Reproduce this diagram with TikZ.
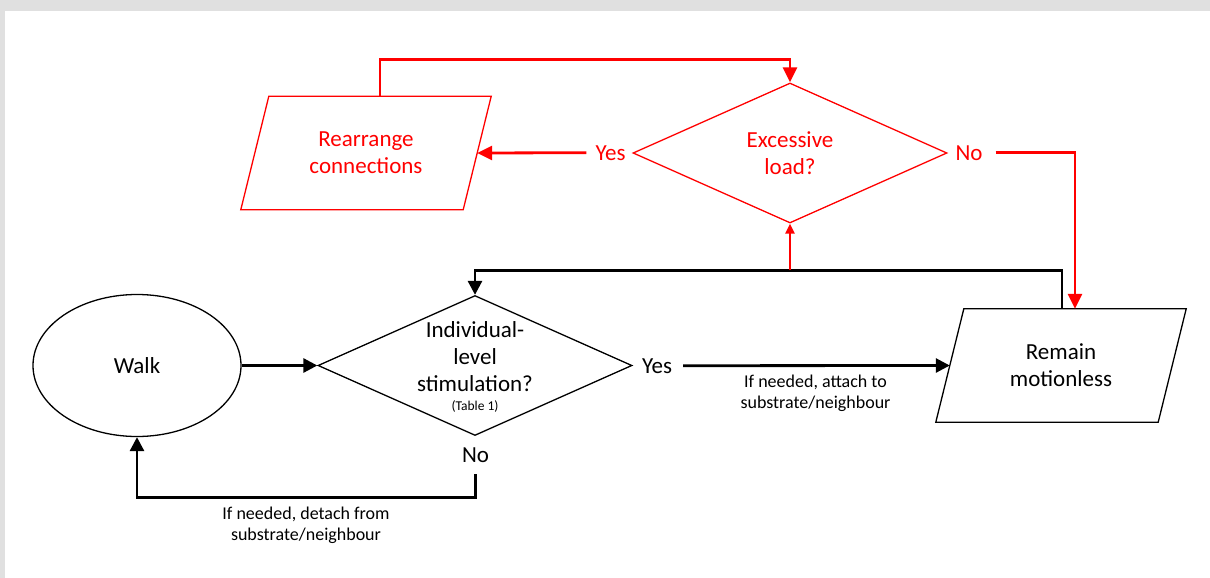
\documentclass[tikz,border=0pt]{standalone}
\usepackage{fontspec}
\setmainfont{Carlito}
\usetikzlibrary{shapes.geometric,arrows.meta,calc}
\definecolor{frame}{HTML}{E0E0E0}
\definecolor{rd}{HTML}{FF0000}
\tikzset{
  shapeline/.style={draw, line width=1.3pt},
  para/.style={minimum width=250pt, minimum height=113pt, inner sep=0pt,
    align=center, font=\fontsize{23}{27}\selectfont},
  dia/.style={shapeline, diamond, minimum width=314pt, minimum height=140pt, inner sep=0pt},
  maintext/.style={align=center, font=\fontsize{23}{27}\selectfont, inner sep=0pt},
  smalltext/.style={align=center, font=\fontsize{18}{21}\selectfont, inner sep=0pt},
  lbl/.style={anchor=base, font=\fontsize{23}{27}\selectfont, inner sep=0pt},
  blk/.style={line width=2.8pt, draw=black},
  red/.style={line width=2.8pt, draw=rd},
  bhead/.style={-{Triangle[length=14pt,width=14pt]}},
  rhead/.style={-{Triangle[length=15pt,width=14pt]}},
  rsmall/.style={-{Triangle[length=10pt,width=9pt]}},
}
\begin{document}
\begin{tikzpicture}[x=1pt,y=-1pt]
\useasboundingbox (0,0) rectangle (1210,578);
\fill[frame] (0,0) rectangle (1210,11);
\fill[frame] (0,0) rectangle (5,578);

% shapes
\node[shapeline, ellipse, minimum width=208pt, minimum height=142pt, inner sep=0pt] (walk) at (137,365.5) {};
\node[maintext] at (walk.center) {Walk};

\node[dia] (ind) at (475,365.5) {};
\node[maintext, anchor=base] (indtxt) at (475,391) {Individual-\\level\\stimulation?};
\node[anchor=base, font=\fontsize{13.5}{15}\selectfont, inner sep=0pt] (tbl) at (475,410) {(Table 1)};

\node[dia, draw=rd] (ex) at (790,153) {};
\node[maintext, text=rd, anchor=base] (extxt) at (790,174) {Excessive\\load?};

\node[para] (rem) at (1061,365.5) {Remain\\motionless};
\draw[shapeline] ([xshift=28pt]rem.north west) -- (rem.north east) -- ([xshift=-28pt]rem.south east) -- (rem.south west) -- cycle;
\node[para, text=rd] (rea) at (366,153) {Rearrange\\connections};
\draw[shapeline, draw=rd] ([xshift=28pt]rea.north west) -- (rea.north east) -- ([xshift=-28pt]rea.south east) -- (rea.south west) -- cycle;

% labels
\node[lbl] (yesB) at (657,373) {Yes};
\node[lbl] (noB) at (475.5,462) {No};
\node[lbl, text=rd] (yesR) at (610.5,160) {Yes};
\node[lbl, text=rd] (noR) at (969,160) {No};

\node[smalltext, anchor=base] (attach) at (815.5,408) {If needed, attach to\\substrate/neighbour};
\node[smalltext, anchor=base] (detach) at (306,540.5) {If needed, detach from\\substrate/neighbour};

% black connectors
\draw[blk, bhead] (walk.east) -- (ind.west);
\draw[blk, bhead] ([xshift=11pt]yesB.east) -- ([xshift=14pt]rem.west);
\draw[blk, bhead] ([yshift=-12pt]noB.south) -- ++(0,23) -| (walk.south);
\draw[blk, bhead] ([xshift=1pt]rem.north) -- ++(0,-38.5) coordinate (bend) -| (ind.north);
\coordinate (junc) at (ex.south |- bend);

% red connectors
\draw[red, rsmall] (junc) -- (ex.south);
\draw[red, rhead] ([xshift=-9pt]yesR.west) -- ([xshift=-14pt]rea.east);
\draw[red, rhead] ([xshift=13pt]noR.east) -| ([xshift=14pt]rem.north);
\draw[red, rhead] ([xshift=14pt]rea.north) -- ++(0,-37) -| (ex.north);
\end{tikzpicture}
\end{document}
